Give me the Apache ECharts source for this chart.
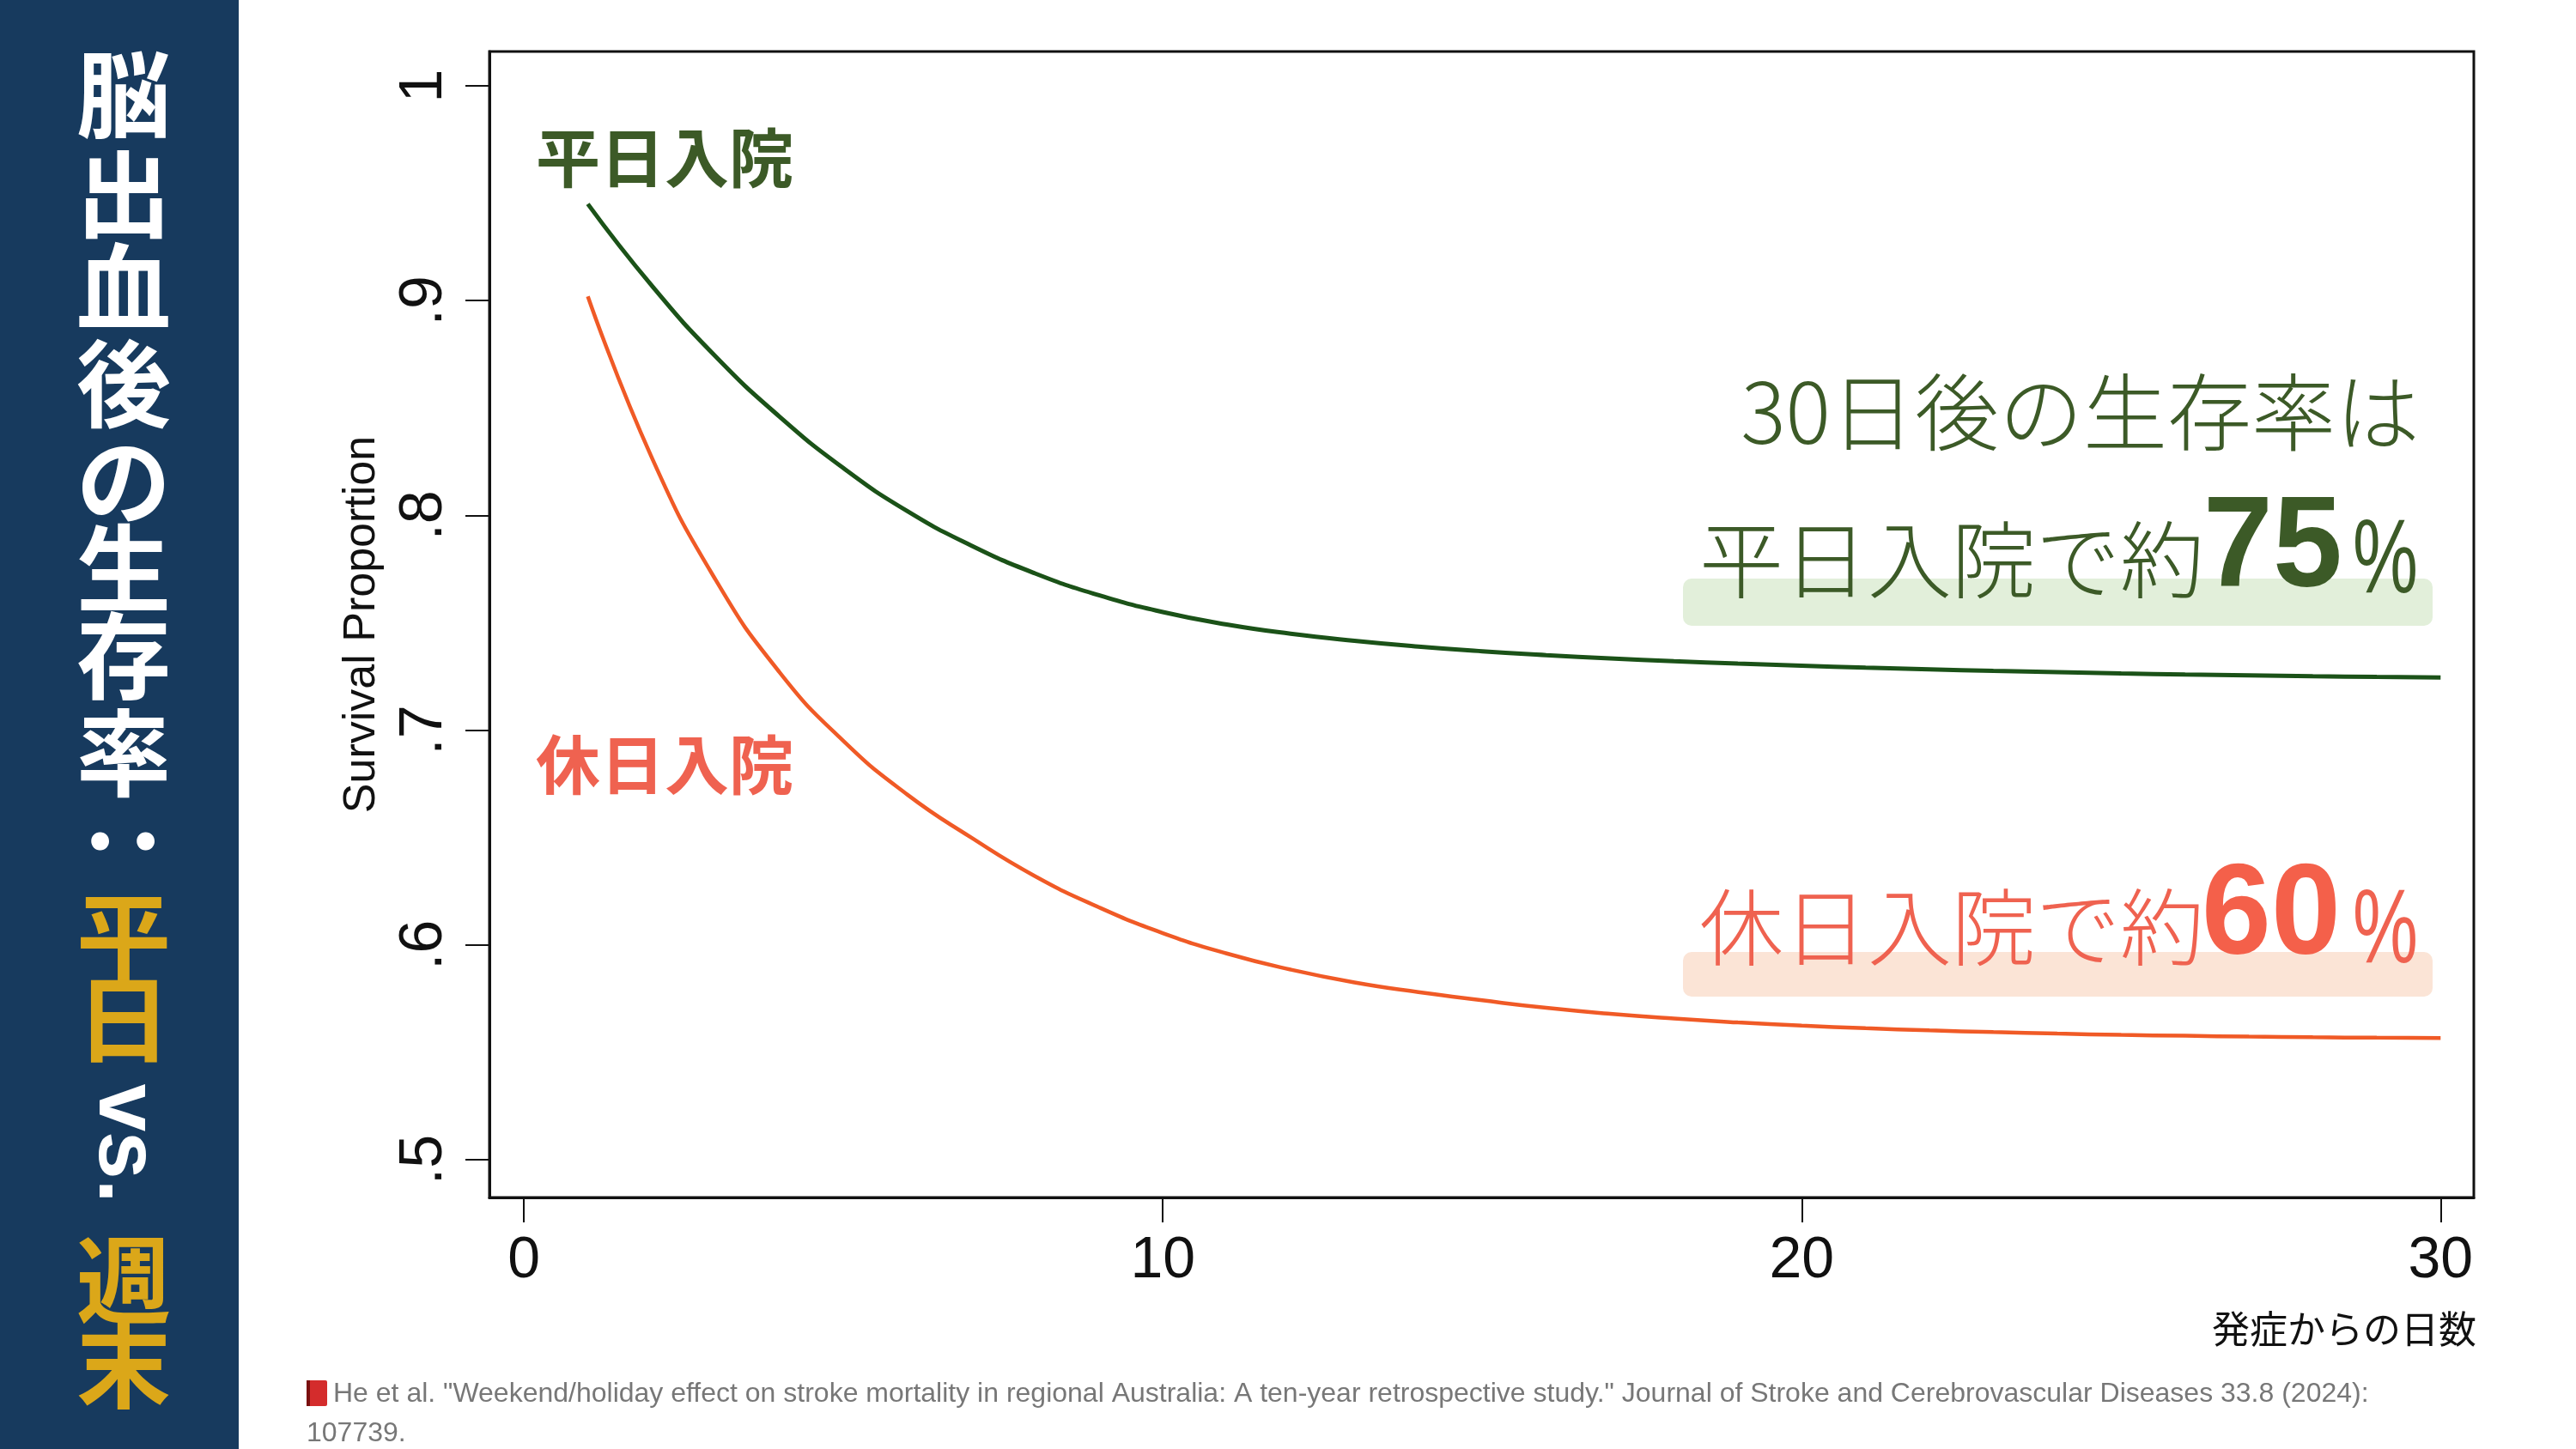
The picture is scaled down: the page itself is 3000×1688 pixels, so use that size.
<!DOCTYPE html>
<html>
<head>
<meta charset="utf-8">
<title>脳出血後の生存率</title>
<script src="https://cdn.jsdelivr.net/npm/echarts@6/dist/echarts.min.js"></script>
<style>
  html, body { margin: 0; padding: 0; background: #fff; }
  #main { width: 3000px; height: 1688px; }
</style>
</head>
<body>
<div id="main"></div>
<script>
// days since onset
var days = [1, 2, 3, 4, 5, 6, 7, 8, 9, 10, 11, 12, 13, 14, 15, 16, 17, 18, 19, 20, 21, 22, 23, 24, 25, 26, 27, 28, 29, 30];
// survival proportion, weekday admission
var weekdaySurv = [0.945, 0.907, 0.874, 0.846, 0.822, 0.802, 0.786, 0.773, 0.7628, 0.755, 0.7492, 0.7449, 0.7416, 0.7389, 0.7367, 0.7349, 0.7334, 0.7321, 0.731, 0.730, 0.7291, 0.7283, 0.7276, 0.727, 0.7264, 0.7259, 0.7255, 0.7251, 0.7248, 0.7245];
// survival proportion, weekend/holiday admission
var holidaySurv = [0.902, 0.827, 0.770, 0.727, 0.695, 0.670, 0.650, 0.632, 0.6175, 0.6055, 0.596, 0.5885, 0.5825, 0.578, 0.5742, 0.5707, 0.5679, 0.5657, 0.5639, 0.5624, 0.5612, 0.5602, 0.5594, 0.5587, 0.5581, 0.5577, 0.5573, 0.557, 0.5568, 0.5566];
var xTicks = [0, 10, 20, 30];
var yTicks = [0.5, 0.6, 0.7, 0.8, 0.9, 1];

var weekdayRate = "75";
var holidayRate = "60";

var chartDom = document.getElementById("main");
var myChart = echarts.init(chartDom);
var option;

var GREEN = "#3c5a27";
var RED = "#ef6250";
var latin = "'Liberation Sans', Arial, sans-serif";
var jp = "'Noto Sans CJK JP', sans-serif";

// vertical title in the navy panel: [char, color, centerY, rotated]
var titleLayout = [
  ["脳", "#fff", 110, false],
  ["出", "#fff", 226, false],
  ["血", "#fff", 334, false],
  ["後", "#fff", 447, false],
  ["の", "#fff", 560, false],
  ["生", "#fff", 662, false],
  ["存", "#fff", 764, false],
  ["率", "#fff", 877, false],
  ["：", "#fff", 980, true],
  ["平", "#dba719", 1090, false],
  ["日", "#dba719", 1187, false],
  ["vs.", "#fff", 1332, true],
  ["週", "#dba719", 1491, false],
  ["末", "#dba719", 1590, false]
];

var graphics = [
  { type: "rect", shape: { x: 0, y: 0, width: 278, height: 1688 }, style: { fill: "#173a5e" }, z: 0 }
];
titleLayout.forEach(function (t) {
  graphics.push({
    type: "text",
    x: 144,
    y: t[2],
    rotation: t[3] ? -Math.PI / 2 : 0,
    style: {
      text: t[0],
      fill: t[1],
      font: t[0] === "vs." ? "bold 100px " + latin : "bold 110px " + jp,
      align: "center",
      verticalAlign: "middle"
    }
  });
});

// highlight bars behind the right-hand summary
graphics.push(
  { type: "rect", shape: { x: 1960, y: 674, width: 873, height: 55, r: 10 }, style: { fill: "#e2efda" }, z: 1 },
  { type: "rect", shape: { x: 1960, y: 1109, width: 873, height: 52, r: 10 }, style: { fill: "#fbe4d6" }, z: 1 }
);

graphics.push(
  // series labels
  { type: "text", x: 624, y: 183, style: { text: "平日入院", fill: GREEN, font: "bold 75px " + jp, align: "left", verticalAlign: "middle" }, z: 5 },
  { type: "text", x: 624, y: 890, style: { text: "休日入院", fill: RED, font: "bold 75px " + jp, align: "left", verticalAlign: "middle" }, z: 5 },
  // summary block
  { type: "text", x: 2818, y: 480, style: { text: "30日後の生存率は", fill: GREEN, font: "300 98px " + jp, align: "right", verticalAlign: "middle" }, z: 5 },
  { type: "text", x: 2567, y: 652, style: { text: "平日入院で約", fill: GREEN, font: "300 98px " + jp, align: "right", verticalAlign: "middle" }, z: 5 },
  { type: "text", x: 2566, y: 642, scaleX: 0.97, style: { text: weekdayRate, fill: GREEN, font: "bold 150px " + latin, align: "left", verticalAlign: "middle" }, z: 5 },
  { type: "text", x: 2740, y: 656, scaleX: 0.7, style: { text: "%", fill: GREEN, font: "122px " + latin, align: "left", verticalAlign: "middle" }, z: 5 },
  { type: "text", x: 2567, y: 1080, style: { text: "休日入院で約", fill: RED, font: "300 98px " + jp, align: "right", verticalAlign: "middle" }, z: 5 },
  { type: "text", x: 2564, y: 1070, scaleX: 0.97, style: { text: holidayRate, fill: "#f4604a", font: "bold 150px " + latin, align: "left", verticalAlign: "middle" }, z: 5 },
  { type: "text", x: 2740, y: 1087, scaleX: 0.7, style: { text: "%", fill: RED, font: "122px " + latin, align: "left", verticalAlign: "middle" }, z: 5 },
  // x axis title
  { type: "text", x: 2884, y: 1548, style: { text: "発症からの日数", fill: "#111", font: "44px " + jp, align: "right", verticalAlign: "middle" }, z: 5 },
  // reference footer
  { type: "rect", shape: { x: 357, y: 1608, width: 24, height: 30, r: 2 }, style: { fill: "#d42c2c" }, z: 5 },
  { type: "rect", shape: { x: 357, y: 1608, width: 4, height: 30 }, style: { fill: "#7a1010" }, z: 6 },
  { type: "text", x: 388, y: 1624, style: { text: 'He et al. "Weekend/holiday effect on stroke mortality in regional Australia: A ten-year retrospective study." Journal of Stroke and Cerebrovascular Diseases 33.8 (2024):', fill: "#777", font: "32px " + latin, align: "left", verticalAlign: "middle" }, z: 5 },
  { type: "text", x: 357, y: 1670, style: { text: "107739.", fill: "#777", font: "32px " + latin, align: "left", verticalAlign: "middle" }, z: 5 }
);

option = {
  backgroundColor: "#fff",
  animation: false,
  grid: {
    left: 570,
    right: 119,
    top: 60,
    bottom: 293,
    show: true,
    borderColor: "#111",
    borderWidth: 3,
    outerBoundsMode: "none"
  },
  xAxis: {
    type: "value",
    min: -0.54,
    max: 30.52,
    splitLine: { show: false },
    axisLine: { show: true, onZero: false, lineStyle: { color: "#111", width: 3 } },
    axisTick: { show: true, customValues: xTicks, length: 29, lineStyle: { color: "#111", width: 2 } },
    axisLabel: {
      customValues: xTicks,
      margin: 40,
      color: "#111",
      fontSize: 68,
      fontFamily: latin
    }
  },
  yAxis: {
    type: "value",
    min: 0.4824,
    max: 1.016,
    name: "Survival Proportion",
    nameLocation: "middle",
    nameGap: 122,
    nameMoveOverlap: false,
    nameTextStyle: { color: "#111", fontSize: 52, fontFamily: latin },
    splitLine: { show: false },
    axisLine: { show: true, onZero: false, lineStyle: { color: "#111", width: 3 } },
    axisTick: { show: true, customValues: yTicks, length: 28, lineStyle: { color: "#111", width: 2 } },
    axisLabel: {
      customValues: yTicks,
      rotate: 90,
      margin: 40,
      color: "#111",
      fontSize: 70,
      fontFamily: latin,
      formatter: function (v) {
        return v === 1 ? "1" : String(Math.round(v * 10) / 10).replace(/^0/, "");
      }
    }
  },
  series: [
    {
      name: "平日入院",
      type: "line",
      smooth: true,
      showSymbol: false,
      lineStyle: { color: "#1b5218", width: 5 },
      data: days.map(function (d, i) { return [d, weekdaySurv[i]]; })
    },
    {
      name: "休日入院",
      type: "line",
      smooth: true,
      showSymbol: false,
      lineStyle: { color: "#f05a26", width: 4.5 },
      data: days.map(function (d, i) { return [d, holidaySurv[i]]; })
    }
  ],
  graphic: { elements: graphics }
};

option && myChart.setOption(option);
</script>
</body>
</html>
